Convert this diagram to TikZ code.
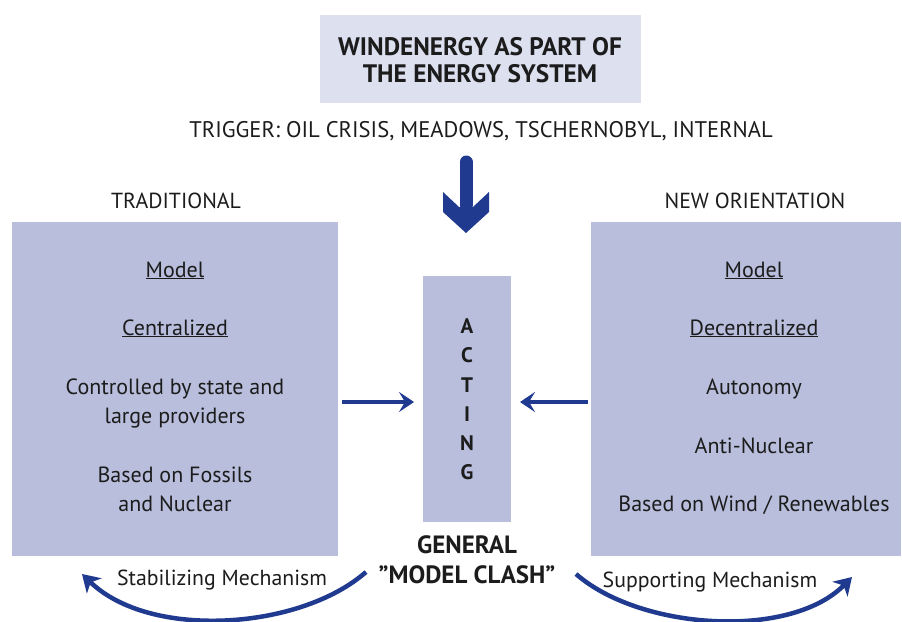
\documentclass[tikz,border=0pt]{standalone}
\usepackage{fontspec}
\setmainfont{PT Sans}
\usetikzlibrary{arrows.meta}
\definecolor{panelblue}{HTML}{B8BEDC}
\definecolor{titlebg}{HTML}{DCE0EF}
\definecolor{arrowblue}{HTML}{1F3A8F}
\definecolor{ink}{HTML}{1C1C1C}
\begin{document}
\begin{tikzpicture}[x=1pt,y=-1pt,
  panel/.style={fill=panelblue, draw=none, inner sep=0pt, outer sep=0pt, anchor=north west},
  txt/.style={inner sep=0pt, anchor=base, text=ink, font=\fontsize{22}{26}\selectfont},
  head/.style={txt, font=\fontsize{21.8}{26}\selectfont},
  ttl/.style={txt, font=\bfseries\fontsize{25.3}{30}\selectfont},
  letter/.style={txt, font=\bfseries\fontsize{21}{25}\selectfont},
  clash/.style={txt, font=\bfseries\fontsize{25}{30}\selectfont},
  flow/.style={draw=arrowblue, line width=4pt, -{Stealth[length=15pt,width=20pt,inset=6pt]}},
  loopback/.style={draw=arrowblue, line width=4.5pt, -{Stealth[length=17pt,width=21pt,inset=5pt]}}
]
\useasboundingbox (0,0) rectangle (902,621);
\fill[white] (0,0) rectangle (902,621);

% title block
\node[panel, fill=titlebg, minimum width=321pt, minimum height=88pt] (title) at (320,15) {};
\node[ttl] (t1) at (480,55) {WINDENERGY AS PART OF};
\node[ttl] (t2) at (480,82) {THE ENERGY SYSTEM};
\node[txt, font=\fontsize{22.6}{27}\selectfont] (trigger) at (481,137) {TRIGGER: OIL CRISIS, MEADOWS, TSCHERNOBYL, INTERNAL};

% big downward arrow
\draw[arrowblue, line width=13pt, line cap=round] (466,162) -- (466,205);
\fill[arrowblue] (459,207) -- (443,192) -- (443,212) -- (466,233) -- (489,212) -- (489,192) -- (473,207) -- cycle;

% column headings
\node[head] (hl) at (176,208) {TRADITIONAL};
\node[head] (hr) at (755,208) {NEW ORIENTATION};

% panels
\node[panel, minimum width=326pt, minimum height=334pt] (trad) at (12,222) {};
\node[panel, minimum width=310pt, minimum height=334pt] (neworient) at (591,222) {};
\node[panel, minimum width=88pt, minimum height=246pt] (act) at (423,276) {};

% traditional model
\node[txt] (l1) at (175,277) {\underline{Model}};
\node[txt] (l2) at (175,335) {\underline{Centralized}};
\node[txt] (l3) at (175,394) {Controlled by state and};
\node[txt] (l4) at (175,423) {large providers};
\node[txt] (l5) at (175,482) {Based on Fossils};
\node[txt] (l6) at (175,511) {and Nuclear};

% new orientation model
\node[txt] (r1) at (754,277) {\underline{Model}};
\node[txt] (r2) at (754,335) {\underline{Decentralized}};
\node[txt] (r3) at (754,394) {Autonomy};
\node[txt] (r4) at (754,453) {Anti-Nuclear};
\node[txt] (r5) at (754,511) {Based on Wind / Renewables};

% acting column
\node[letter] (a1) at (467,333) {A};
\node[letter] (a2) at (467,362) {C};
\node[letter] (a3) at (467,392) {T};
\node[letter] (a4) at (467,421) {I};
\node[letter] (a5) at (467,450) {N};
\node[letter] (a6) at (467,479) {G};

\node[clash] (g1) at (467,553) {GENERAL};
\node[clash] (g2) at (467,583) {"MODEL CLASH"};

% horizontal connectors
\draw[flow] ([xshift=4pt,yshift=-13pt]trad.east) -- ([xshift=-9pt,yshift=-3pt]act.west);
\draw[flow] ([xshift=-3pt,yshift=-13pt]neworient.west) -- ([xshift=9pt,yshift=-3pt]act.east);

% feedback mechanisms
\coordinate (stabStart) at (366,572);
\coordinate (stabEnd) at (82,574);
\coordinate (suppStart) at (576,574);
\coordinate (suppEnd) at (852,577);
\draw[loopback] (stabStart) .. controls (300,630) and (150,640) .. (stabEnd);
\draw[loopback] (suppStart) .. controls (640,630) and (790,640) .. (suppEnd);
\node[head] (stab) at (222,585) {Stabilizing Mechanism};
\node[head] (supp) at (710,587) {Supporting Mechanism};
\end{tikzpicture}
\end{document}
